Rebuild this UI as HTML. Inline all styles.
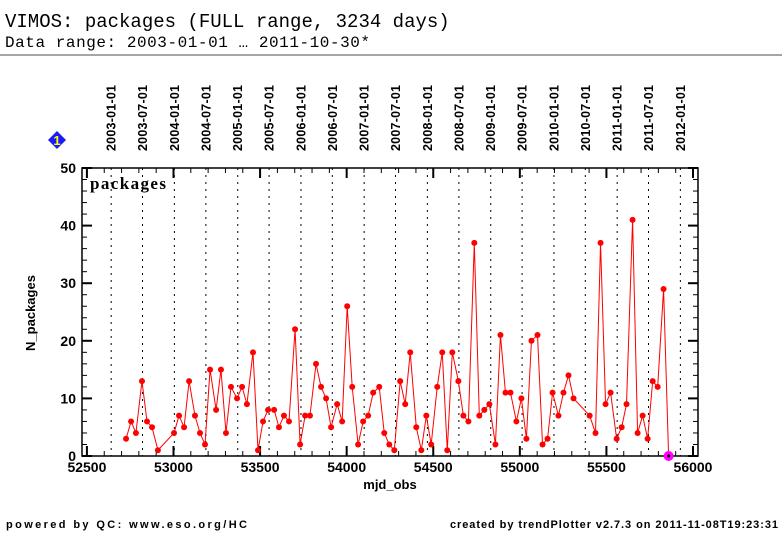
<!DOCTYPE html>
<html><head><meta charset="utf-8"><style>
body{margin:0;background:#fff;width:782px;height:542px;overflow:hidden}
svg{display:block}
text{font-family:"Liberation Sans",sans-serif}
</style></head><body>
<svg id="chart" width="782" height="542">
<text x="5" y="27" font-size="19" style="font-family:'Liberation Mono',monospace">VIMOS: packages (FULL range, 3234 days)</text>
<text x="5" y="47" font-size="16" textLength="365" style="font-family:'Liberation Mono',monospace">Data range: 2003-01-01 … 2011-10-30*</text>
<line x1="0" y1="55" x2="782" y2="55" stroke="#888" stroke-width="1.5"/>
<g id="g"></g>
<g transform="translate(57,140)">
<polygon points="0,-9 9,0 0,9 -9,0" fill="#1a1aff"/>
<text x="0" y="5" text-anchor="middle" font-size="13" font-weight="bold" fill="#ff0">1</text>
</g>
<text x="35" y="313" transform="rotate(-90 35 313)" text-anchor="middle" font-size="13" font-weight="bold">N_packages</text>
<text x="390" y="489" text-anchor="middle" font-size="13" font-weight="bold">mjd_obs</text>
<text x="6" y="528" font-size="11" font-weight="bold" textLength="241">powered by QC: www.eso.org/HC</text>
<text x="450" y="528" font-size="11" font-weight="bold" textLength="328">created by trendPlotter v2.7.3 on 2011-11-08T19:23:31</text>
</svg>
<script>
const mjd=[52726,52755,52783,52818,52847,52876,52910,53003,53032,53061,53090,53124,53153,53182,53211,53246,53274,53303,53332,53367,53396,53424,53459,53488,53517,53546,53581,53609,53638,53667,53702,53731,53760,53788,53823,53852,53881,53910,53945,53974,54003,54032,54066,54095,54124,54153,54188,54217,54246,54275,54309,54338,54367,54402,54431,54460,54488,54523,54552,54581,54610,54645,54674,54703,54737,54766,54795,54824,54859,54888,54917,54946,54980,55009,55038,55067,55102,55131,55160,55189,55223,55252,55281,55310,55403,55437,55466,55495,55524,55559,55588,55616,55651,55680,55709,55738,55767,55796,55830,55859];
const packages=[3,6,4,13,6,5,1,4,7,5,13,7,4,2,15,8,15,4,12,10,12,9,18,1,6,8,8,5,7,6,22,2,7,7,16,12,10,5,9,6,26,12,2,6,7,11,12,4,2,1,13,9,18,5,1,7,2,12,18,1,18,13,7,6,37,7,8,9,2,21,11,11,6,10,3,20,21,2,3,11,7,11,14,10,7,4,37,9,11,3,5,9,41,4,7,3,13,12,29,0];
const dateLabels=["2003-01-01","2003-07-01","2004-01-01","2004-07-01","2005-01-01","2005-07-01","2006-01-01","2006-07-01","2007-01-01","2007-07-01","2008-01-01","2008-07-01","2009-01-01","2009-07-01","2010-01-01","2010-07-01","2011-01-01","2011-07-01","2012-01-01"];
const dateMjd=[52640,52821,53005,53187,53371,53552,53736,53917,54101,54282,54466,54648,54832,55013,55197,55378,55562,55743,55927];
const xTicks=[52500,53000,53500,54000,54500,55000,55500,56000];
const yTicks=[0,10,20,30,40,50];
const NS="http://www.w3.org/2000/svg";
const L=82,R=698,T=168,B=456;
const X=v=>173.5+(v-53000)*0.17317;
const Y=v=>B-(v/50)*(B-T);
const g=document.getElementById('g');
function mk(t,a,p){const e=document.createElementNS(NS,t);for(const k in a)e.setAttribute(k,a[k]);(p||g).appendChild(e);return e;}
dateMjd.forEach((d,i)=>{
 const l=mk('line',{x1:X(d),x2:X(d),y1:T,y2:B,stroke:'#000','stroke-width':1,'stroke-dasharray':'2,5'});
 
 
 const t=mk('text',{x:X(d)+4.5,y:151,transform:`rotate(-90 ${X(d)+4.5} 151)`,'font-size':12.5,'font-weight':'bold',textLength:66});
 t.textContent=dateLabels[i];
 
 
});
const frame=mk('rect',{x:L,y:T,width:R-L,height:B-T,fill:'none',stroke:'#000','stroke-width':1.5});


for(let v=52500;v<=56000;v+=100){
 const maj=v%500===0;
 mk('line',{x1:X(v),x2:X(v),y1:B,y2:B-(maj?10:5),stroke:'#000','stroke-width':maj?2:1});
 mk('line',{x1:X(v),x2:X(v),y1:T,y2:T+(maj?10:5),stroke:'#000','stroke-width':maj?2:1});
}
xTicks.forEach(v=>{const t=mk('text',{x:X(v),y:472,'text-anchor':'middle','font-size':14,'font-weight':'bold'});t.textContent=v;
 
 });
for(let v=0;v<=50;v+=2){
 const maj=v%10===0;
 mk('line',{x1:L,x2:L+(maj?10:5),y1:Y(v),y2:Y(v),stroke:'#000','stroke-width':maj?2:1});
 mk('line',{x1:R,x2:R-(maj?10:5),y1:Y(v),y2:Y(v),stroke:'#000','stroke-width':maj?2:1});
}
yTicks.forEach(v=>{const t=mk('text',{x:76,y:Y(v)+5,'text-anchor':'end','font-size':14,'font-weight':'bold'});t.textContent=v;
 
 });
const pl=mk('text',{x:90,y:189,'font-size':17,'font-weight':'bold',textLength:76});pl.textContent='packages';


pl.style.fontFamily="'Liberation Serif',serif";
const line=mk('polyline',{points:mjd.map((d,i)=>X(d)+','+Y(packages[i])).join(' '),fill:'none',stroke:'#f00','stroke-width':1});


mjd.forEach((d,i)=>{
 const last=i===mjd.length-1;
 const c=mk('circle',{cx:X(d),cy:Y(packages[i]),r:last?5:3,fill:last?'#f0f':'#f00'});
 
 
 if(last){mk('circle',{cx:X(d),cy:Y(packages[i]),r:1.5,fill:'#000'});}
});
</script>
</body></html>
